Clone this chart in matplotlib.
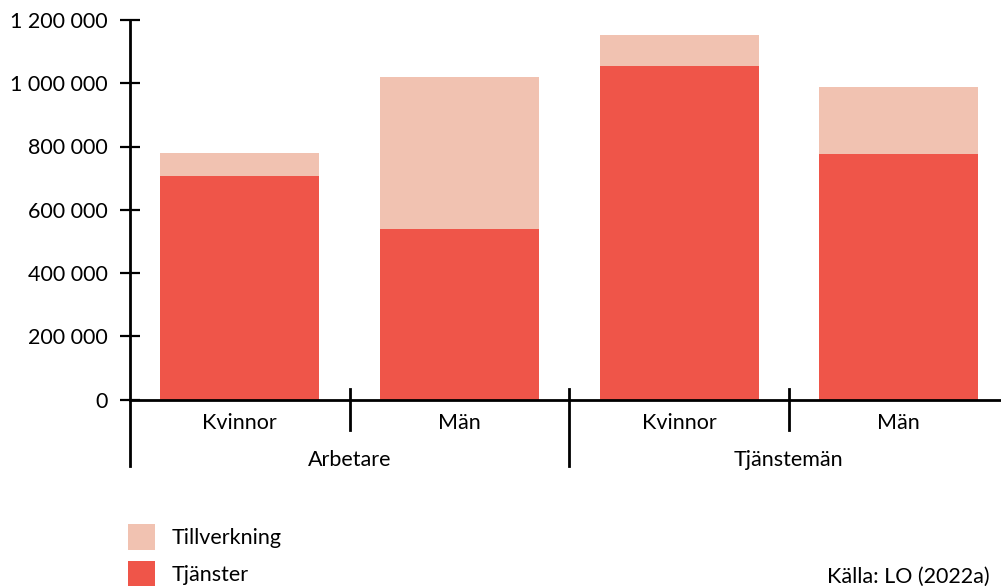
import matplotlib
matplotlib.use("Agg")
import matplotlib.pyplot as plt
from matplotlib.lines import Line2D
from matplotlib.patches import Patch
import matplotlib.transforms as mtransforms

plt.rcParams['font.family'] = ['Lato', 'DejaVu Sans']

# antal sysselsatta per grupp och sektor
groups = ['Arbetare', 'Tjänstemän']
kon = ['Kvinnor', 'Män', 'Kvinnor', 'Män']
tjanster = [707000, 539000, 1054000, 776000]
tillverkning = [73000, 481000, 98000, 212000]
yticks = [0, 200000, 400000, 600000, 800000, 1000000, 1200000]

RED = '#EF5549'
PINK = '#F1C2B1'
FS = 15.5

fig = plt.figure(figsize=(10.01, 5.86), dpi=100)
ax = fig.add_axes([130 / 1001, 186.5 / 586, 878.5 / 1001, 379.5 / 586])

x = list(range(len(kon)))
ax.bar(x, tjanster, width=0.724, color=RED, zorder=2)
ax.bar(x, tillverkning, bottom=tjanster, width=0.724, color=PINK, zorder=2)

ax.set_xlim(-0.5, 3.5)
ax.set_ylim(0, 1200000)

for s in ['top', 'right']:
    ax.spines[s].set_visible(False)
for s in ['left', 'bottom']:
    ax.spines[s].set_linewidth(2)
    ax.spines[s].set_zorder(3)

ax.set_yticks(yticks)
ax.set_yticklabels(['{:,}'.format(v).replace(',', ' ') for v in yticks])
ax.tick_params(axis='y', direction='inout', length=14.4, width=1.6,
               pad=8.6, labelsize=FS)

ax.set_xticks(x)
ax.set_xticklabels(kon)
ax.tick_params(axis='x', length=0, pad=10, labelsize=FS)

# avdelare mellan kategorier och grupper
trans = mtransforms.blended_transform_factory(ax.transData, ax.transAxes)
for i in range(len(kon) + 1):
    xs = i - 0.5
    if i % 2 == 0:
        y0, y1 = -0.175, 0.0264
    else:
        y0, y1 = -0.080, 0.0264
    if i == 0:
        y1 = 0
    ax.add_line(Line2D([xs, xs], [y0, y1], transform=trans, color='black',
                       lw=2, clip_on=False, zorder=3))

for g, name in enumerate(groups):
    ax.text(2 * g + 0.5, -0.16, name, transform=trans, ha='center',
            va='center', fontsize=FS)

handles = [Patch(facecolor=PINK, label='Tillverkning'),
           Patch(facecolor=RED, label='Tjänster')]
fig.legend(handles=handles, loc='upper left',
           bbox_to_anchor=(128 / 1001, 1 - 524 / 586), frameon=False,
           fontsize=FS, borderpad=0, borderaxespad=0, handlelength=1.254,
           handleheight=1.48, handletextpad=0.78, labelspacing=0.51)

fig.text(827 / 1001, 1 - 577 / 586, 'Källa: LO (2022a)', ha='left',
         va='center', fontsize=FS)

fig.savefig('out.png', dpi=100)
